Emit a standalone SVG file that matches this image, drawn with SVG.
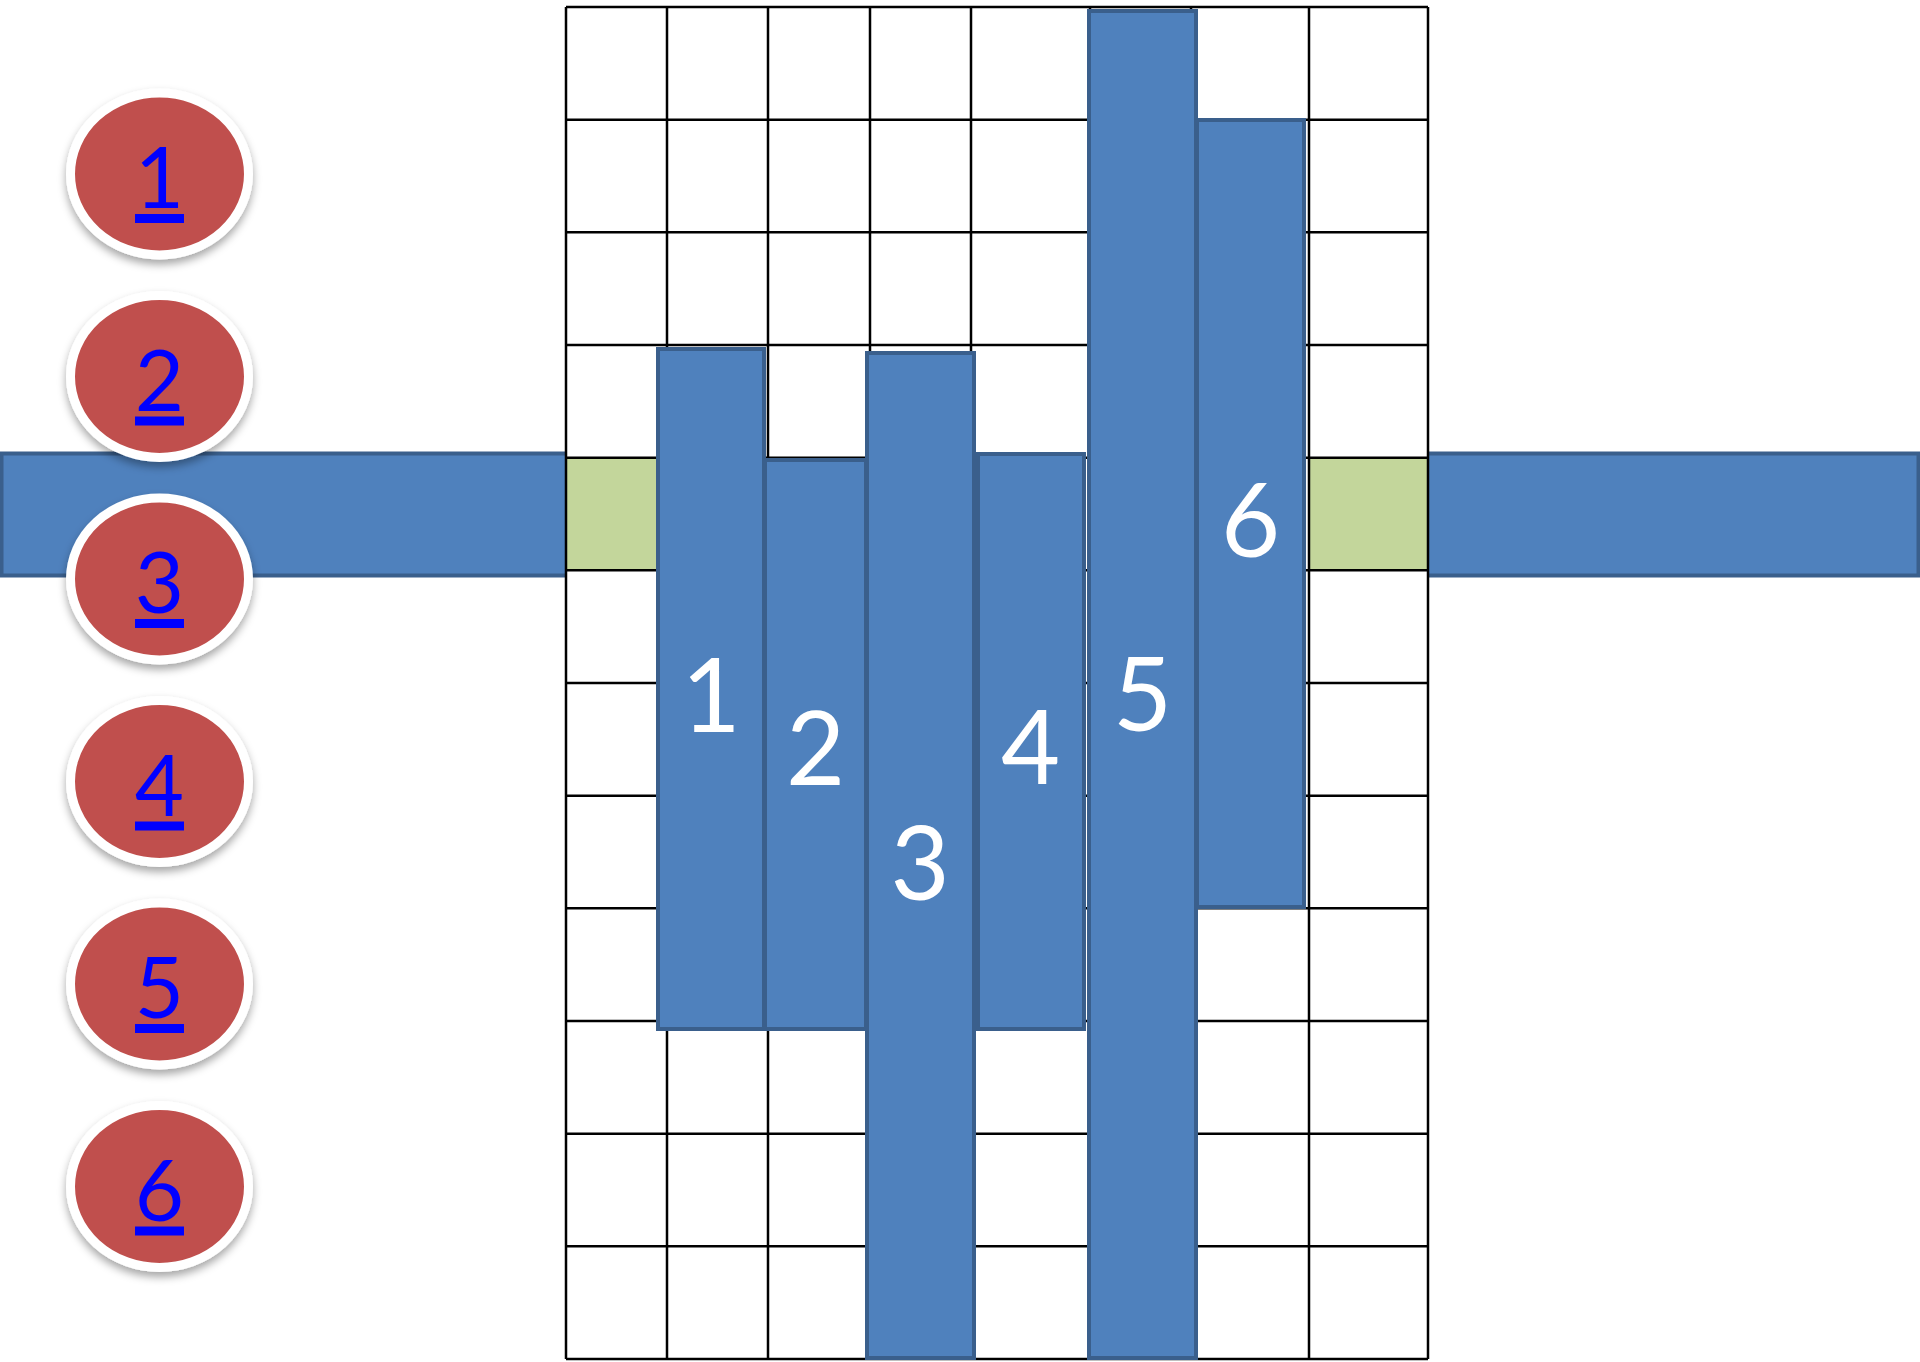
<svg xmlns="http://www.w3.org/2000/svg" width="1920" height="1362" viewBox="0 0 1920 1362">
<defs>
<filter id="sh" x="-20%" y="-20%" width="140%" height="150%">
<feDropShadow dx="0" dy="5" stdDeviation="4" flood-color="#000" flood-opacity="0.35"/>
</filter>
<style>
.bar{fill:#4F81BD;stroke:#3A5F8C;stroke-width:4}
.grid{stroke:#000;stroke-width:2.5;fill:none}
.lbl{font-family:Lato,"Open Sans",sans-serif;font-size:102px;fill:#fff;text-anchor:middle}
.cir{fill:#C0504D;stroke:#fff;stroke-width:9;filter:url(#sh)}
.num{font-family:Lato,"Open Sans",sans-serif;font-size:85px;fill:#0000FF;text-anchor:middle}
.ul{fill:#0000FF}
</style>
</defs>
<rect width="1920" height="1362" fill="#fff"/>
<g id="hbar"><rect class="bar" x="1.5" y="453.5" width="1917" height="122"/></g>
<g id="table">
<rect x="566" y="7" width="862" height="1352" fill="#fff"/>
<rect x="566" y="457" width="101" height="113" fill="#C3D69B"/>
<rect x="1309" y="457" width="119" height="113" fill="#C3D69B"/>
<g class="grid">
<path d="M566 7V1359M667 7V1359M768 7V1359M870 7V1359M971 7V1359M1090 7V1359M1191 7V1359M1309 7V1359M1428 7V1359"/>
<path d="M566 7H1428M566 119.7H1428M566 232.3H1428M566 345H1428M566 457.7H1428M566 570.3H1428M566 683H1428M566 795.7H1428M566 908.3H1428M566 1021H1428M566 1133.7H1428M566 1246.3H1428M566 1359H1428"/>
</g>
</g>
<g id="bar1"><rect class="bar" x="658" y="349" width="106" height="680"/><text class="lbl" x="711" y="732">1</text></g>
<g id="bar2"><rect class="bar" x="765" y="460" width="101" height="569"/><text class="lbl" x="815.5" y="785">2</text></g>
<g id="bar3"><rect class="bar" x="867" y="353" width="107" height="1005"/><text class="lbl" x="920" y="900">3</text></g>
<g id="bar4"><rect class="bar" x="978" y="454" width="106" height="575"/><text class="lbl" x="1030.5" y="784">4</text></g>
<g id="bar6"><rect class="bar" x="1197" y="120" width="107" height="787"/><text class="lbl" x="1250.5" y="557">6</text></g>
<g id="bar5"><rect class="bar" x="1089" y="11" width="107" height="1347"/><text class="lbl" x="1142.5" y="731">5</text></g>
<g id="c1"><ellipse class="cir" cx="159.5" cy="174" rx="89" ry="81"/><text class="num" x="159.5" y="208">1</text><rect class="ul" x="135" y="214" width="49" height="9"/></g>
<g id="c2"><ellipse class="cir" cx="159.5" cy="376.5" rx="89" ry="81"/><text class="num" x="159.5" y="410.5">2</text><rect class="ul" x="135" y="416.5" width="49" height="9"/></g>
<g id="c3"><ellipse class="cir" cx="159.5" cy="579" rx="89" ry="81"/><text class="num" x="159.5" y="613">3</text><rect class="ul" x="135" y="619" width="49" height="9"/></g>
<g id="c4"><ellipse class="cir" cx="159.5" cy="781.5" rx="89" ry="81"/><text class="num" x="159.5" y="815.5">4</text><rect class="ul" x="135" y="821.5" width="49" height="9"/></g>
<g id="c5"><ellipse class="cir" cx="159.5" cy="984" rx="89" ry="81"/><text class="num" x="159.5" y="1018">5</text><rect class="ul" x="135" y="1024" width="49" height="9"/></g>
<g id="c6"><ellipse class="cir" cx="159.5" cy="1186.5" rx="89" ry="81"/><text class="num" x="159.5" y="1220.5">6</text><rect class="ul" x="135" y="1226.5" width="49" height="9"/></g>
</svg>
